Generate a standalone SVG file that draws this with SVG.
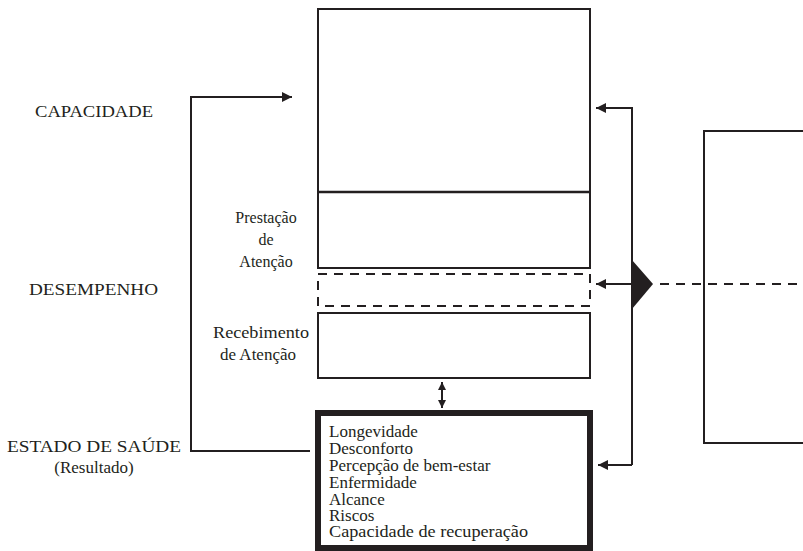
<svg xmlns="http://www.w3.org/2000/svg" width="803" height="551" viewBox="0 0 803 551" font-family="'Liberation Serif', 'Times New Roman', 'DejaVu Serif', serif">
<style>
text{font-family:'Liberation Serif','Times New Roman','DejaVu Serif',serif;fill:#231f20}
.lbl{font-size:17px}
.sm{font-size:16px}
.li{font-size:17px}
.box{fill:none;stroke:#231f20;stroke-width:2}
.ln{fill:none;stroke:#231f20;stroke-width:2}
.dash{fill:none;stroke:#231f20;stroke-width:2;stroke-dasharray:9,7}
</style>
<defs>
<marker id="ah" viewBox="0 0 10 10" refX="10" refY="5" markerWidth="10" markerHeight="10" markerUnits="userSpaceOnUse" orient="auto">
<path d="M0,0 L10,5 L0,10 Z" fill="#231f20"/>
</marker>
<marker id="ahs" viewBox="0 0 10 10" refX="10" refY="5" markerWidth="8" markerHeight="8" markerUnits="userSpaceOnUse" orient="auto-start-reverse">
<path d="M0,0 L10,5 L0,10 Z" fill="#231f20"/>
</marker>
</defs>
<g id="labels">
<text class="lbl" x="35" y="117" textLength="118" lengthAdjust="spacingAndGlyphs">CAPACIDADE</text>
<text class="lbl" x="29" y="295" textLength="129" lengthAdjust="spacingAndGlyphs">DESEMPENHO</text>
<text class="lbl" x="7" y="452" textLength="174" lengthAdjust="spacingAndGlyphs">ESTADO DE SAÚDE</text>
<text class="lbl" x="94" y="473" text-anchor="middle">(Resultado)</text>
</g>
<g id="capacidade">
<rect class="box" x="318" y="9" width="272" height="259"/>
<line x1="318" y1="192" x2="590" y2="192" stroke="#231f20" stroke-width="2.5"/>
</g>
<g id="prestacao">
<text class="sm" x="266" y="223" text-anchor="middle">Prestação</text>
<text class="sm" x="266" y="245" text-anchor="middle">de</text>
<text class="sm" x="266" y="267" text-anchor="middle">Atenção</text>
</g>
<g id="desempenho">
<rect class="dash" x="318" y="274" width="272" height="32"/>
</g>
<g id="recebimento">
<rect class="box" x="318" y="313" width="272" height="65"/>
<text class="lbl" x="213" y="338" textLength="96" lengthAdjust="spacingAndGlyphs">Recebimento</text>
<text class="lbl" x="258" y="360" text-anchor="middle">de Atenção</text>
</g>
<g id="estado">
<rect x="318" y="413" width="272" height="135" fill="none" stroke="#231f20" stroke-width="6"/>
<text class="li" x="329" y="437">Longevidade</text>
<text class="li" x="329" y="454">Desconforto</text>
<text class="li" x="329" y="471">Percepção de bem-estar</text>
<text class="li" x="329" y="488">Enfermidade</text>
<text class="li" x="329" y="505">Alcance</text>
<text class="li" x="329" y="521">Riscos</text>
<text class="li" x="329" y="537" textLength="199" lengthAdjust="spacingAndGlyphs">Capacidade de recuperação</text>
</g>
<g id="externo">
<rect class="box" x="704" y="131" width="110" height="312"/>
</g>
<g id="connectors">
<polyline class="ln" points="310,451 191,451 191,97 292,97" marker-end="url(#ah)"/>
<line class="ln" x1="442" y1="382" x2="442" y2="408" marker-start="url(#ahs)" marker-end="url(#ahs)"/>
<polyline class="ln" points="632,465 632,108 596,108" marker-end="url(#ah)"/>
<line class="ln" x1="632" y1="465" x2="598" y2="465" marker-end="url(#ah)"/>
<line class="ln" x1="632" y1="284" x2="596" y2="284" marker-end="url(#ah)"/>
<path d="M632,260 L653,284 L632,309 Z" fill="#231f20"/>
<line class="dash" x1="660" y1="284" x2="803" y2="284" stroke-dasharray="14,9"/>
</g>
</svg>
